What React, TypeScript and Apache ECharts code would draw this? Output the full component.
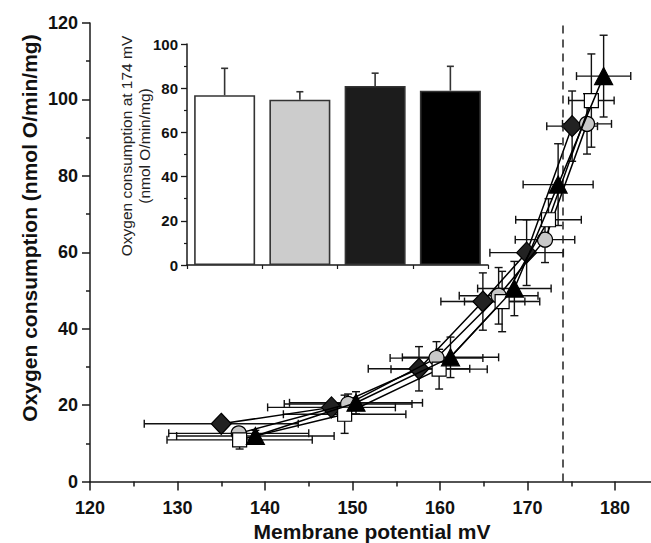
import React, { useEffect, useRef } from 'react';
import * as echarts from 'echarts';

// Main plot: four series (diamond, circle, square, triangle)
const diamondX = [135.0, 147.6, 157.6, 164.9, 169.9, 175.1];
const diamondY = [15.1, 19.4, 29.5, 47.1, 59.9, 93.0];
const diamondXErr = [8.8, 7.3, 5.8, 4.8, 4.2, 2.9];
const diamondYErr = [1.5, 1.5, 5.8, 7.5, 8.6, 9.2];

const circleX = [137.0, 149.5, 159.6, 166.7, 172.0, 176.8];
const circleY = [12.6, 20.3, 32.3, 48.6, 63.3, 93.6];
const circleXErr = [8.0, 7.3, 5.3, 4.5, 3.4, 2.8];
const circleYErr = [1.5, 2.6, 4.3, 7.4, 6.0, 7.9];

const squareX = [137.1, 149.1, 159.9, 167.1, 172.4, 177.3];
const squareY = [10.9, 17.6, 29.4, 47.1, 68.5, 99.7];
const squareXErr = [8.3, 7.0, 5.5, 4.3, 3.75, 2.6];
const squareYErr = [2.4, 5.0, 5.2, 7.9, 5.5, 12.2];

const triangleX = [138.9, 150.4, 161.2, 168.5, 173.5, 178.7];
const triangleY = [11.9, 20.6, 32.5, 50.5, 77.7, 106.1];
const triangleXErr = [9.0, 7.6, 5.5, 4.2, 4.0, 3.1];
const triangleYErr = [1.5, 2.9, 5.3, 7.1, 10.7, 10.7];

const dashedLineX = 174;
const lastXLabel = 180;

// Inset bar chart
const barCategories = ['1', '2', '3', '4'];
const barValues = [76.8, 74.8, 81.0, 78.9];
const barErrors = [12.2, 3.6, 5.8, 11.0];
const barColors = ['#ffffff', '#cccccc', '#1c1c1c', '#000000'];

// Titles
const xTitle = 'Membrane potential mV';
const yTitle = 'Oxygen consumption (nmol O/min/mg)';
const insetTitle = 'Oxygen consumption at 174 mV\n(nmol O/min/mg)';

const FONT = '"Liberation Sans", Arial, Helvetica, sans-serif';

const zip = (xs: number[], ys: number[]) => xs.map((x, i) => [x, ys[i]]);
const zip4 = (xs: number[], ys: number[], xe: number[], ye: number[]) =>
  xs.map((x, i) => [x, ys[i], xe[i], ye[i]]);

const errStyle = { stroke: '#111', lineWidth: 1.4 };

const xyErrRender = (_params: any, api: any) => {
  const x = api.value(0);
  const y = api.value(1);
  const xe = api.value(2);
  const ye = api.value(3);
  const l = api.coord([x - xe, y]);
  const r = api.coord([x + xe, y]);
  const t = api.coord([x, y + ye]);
  const b = api.coord([x, y - ye]);
  const c = 4;
  return {
    type: 'group',
    children: [
      { type: 'line', shape: { x1: l[0], y1: l[1], x2: r[0], y2: r[1] }, style: errStyle },
      { type: 'line', shape: { x1: l[0], y1: l[1] - c, x2: l[0], y2: l[1] + c }, style: errStyle },
      { type: 'line', shape: { x1: r[0], y1: r[1] - c, x2: r[0], y2: r[1] + c }, style: errStyle },
      { type: 'line', shape: { x1: t[0], y1: t[1], x2: b[0], y2: b[1] }, style: errStyle },
      { type: 'line', shape: { x1: t[0] - c, y1: t[1], x2: t[0] + c, y2: t[1] }, style: errStyle },
      { type: 'line', shape: { x1: b[0] - c, y1: b[1], x2: b[0] + c, y2: b[1] }, style: errStyle },
    ],
  };
};

const barErrRender = (_params: any, api: any) => {
  const i = api.value(0);
  const v = api.value(1);
  const e = api.value(2);
  const p0 = api.coord([i, v]);
  const p1 = api.coord([i, v + e]);
  const c = 3.5;
  const s = { stroke: '#333', lineWidth: 1.6 };
  return {
    type: 'group',
    children: [
      { type: 'line', shape: { x1: p0[0], y1: p0[1], x2: p1[0], y2: p1[1] }, style: s },
      { type: 'line', shape: { x1: p1[0] - c, y1: p1[1], x2: p1[0] + c, y2: p1[1] }, style: s },
    ],
  };
};

const seriesDefs = [
  { name: 'diamond', xs: diamondX, ys: diamondY, xe: diamondXErr, ye: diamondYErr, symbol: 'diamond', size: [20, 21], color: '#222222' },
  { name: 'circle', xs: circleX, ys: circleY, xe: circleXErr, ye: circleYErr, symbol: 'circle', size: 15, color: '#c8c8c8' },
  { name: 'square', xs: squareX, ys: squareY, xe: squareXErr, ye: squareYErr, symbol: 'rect', size: 14, color: '#ffffff' },
  { name: 'triangle', xs: triangleX, ys: triangleY, xe: triangleXErr, ye: triangleYErr, symbol: 'triangle', size: [18, 17], color: '#000000' },
];

export default function App() {
  const ref = useRef<HTMLDivElement>(null);

  useEffect(() => {
    if (!ref.current) return;
    const chart = echarts.init(ref.current, undefined, { renderer: 'svg' });

    const axisLine = { show: true, lineStyle: { color: '#1a1a1a', width: 1.5 } };

    const series: any[] = [];
    seriesDefs.forEach((d) => {
      series.push({
        type: 'custom',
        name: d.name + '-err',
        xAxisIndex: 0,
        yAxisIndex: 0,
        renderItem: xyErrRender,
        data: zip4(d.xs, d.ys, d.xe, d.ye),
        encode: { x: 0, y: 1 },
        clip: false,
        z: 2,
        silent: true,
      });
    });
    seriesDefs.forEach((d, idx) => {
      const s: any = {
        type: 'line',
        name: d.name,
        xAxisIndex: 0,
        yAxisIndex: 0,
        data: zip(d.xs, d.ys),
        symbol: d.symbol,
        symbolSize: d.size,
        lineStyle: { color: '#000', width: 1.5 },
        itemStyle: { color: d.color, borderColor: '#000', borderWidth: 1.2 },
        z: 3 + idx,
        silent: true,
      };
      if (idx === 0) {
        s.markLine = {
          silent: true,
          symbol: ['none', 'none'],
          label: { show: false },
          lineStyle: { color: '#222', width: 1.5, type: [8, 6] },
          data: [{ xAxis: dashedLineX }],
        };
      }
      series.push(s);
    });

    series.push({
      type: 'bar',
      xAxisIndex: 1,
      yAxisIndex: 1,
      data: barValues.map((v, i) => ({ value: v, itemStyle: { color: barColors[i] } })),
      barWidth: 61,
      itemStyle: { borderColor: '#333', borderWidth: 1.6 },
      z: 5,
      silent: true,
    });
    series.push({
      type: 'custom',
      xAxisIndex: 1,
      yAxisIndex: 1,
      renderItem: barErrRender,
      data: barValues.map((v, i) => [i, v, barErrors[i]]),
      encode: { x: 0, y: 1 },
      clip: false,
      z: 4,
      silent: true,
    });

    chart.setOption({
      animation: false,
      backgroundColor: '#ffffff',
      textStyle: { fontFamily: FONT },
      grid: [
        { left: 90, top: 23, width: 612.5, height: 458.5 },
        { left: 187, top: 44, width: 301, height: 221 },
      ],
      graphic: [
        {
          type: 'text',
          x: 372,
          y: 531.5,
          silent: true,
          style: { text: xTitle, fontFamily: FONT, fontWeight: 'bold', fontSize: 21, fill: '#111', align: 'center', verticalAlign: 'middle' },
        },
        {
          type: 'text',
          x: 29,
          y: 228,
          rotation: Math.PI / 2,
          silent: true,
          style: { text: yTitle, fontFamily: FONT, fontWeight: 'bold', fontSize: 21, fill: '#111', align: 'center', verticalAlign: 'middle' },
        },
        {
          type: 'text',
          x: 135,
          y: 146,
          rotation: Math.PI / 2,
          silent: true,
          style: { text: insetTitle, fontFamily: FONT, fontSize: 15.5, lineHeight: 18, fill: '#222', align: 'center', verticalAlign: 'middle' },
        },
      ],
      xAxis: [
        {
          type: 'value',
          gridIndex: 0,
          min: 120,
          max: 190,
          interval: 10,
          axisLine,
          axisTick: { show: true, length: 9, lineStyle: { color: '#1a1a1a', width: 1.5 } },
          minorTick: { show: true, splitNumber: 2, length: 5, lineStyle: { color: '#1a1a1a', width: 1.5 } },
          splitLine: { show: false },
          axisLabel: {
            fontFamily: FONT,
            fontWeight: 'bold',
            fontSize: 18,
            color: '#111',
            margin: 17,
            formatter: (v: number) => (v <= lastXLabel ? String(v) : ''),
          },
        },
        {
          type: 'category',
          gridIndex: 1,
          data: barCategories,
          axisLine,
          axisTick: { show: true, length: 4, lineStyle: { color: '#1a1a1a', width: 1.2 } },
          axisLabel: { show: false },
          splitLine: { show: false },
        },
      ],
      yAxis: [
        {
          type: 'value',
          gridIndex: 0,
          min: 0,
          max: 120,
          interval: 20,
          axisLine,
          axisTick: { show: true, length: 8, lineStyle: { color: '#1a1a1a', width: 1.5 } },
          minorTick: { show: true, splitNumber: 2, length: 4, lineStyle: { color: '#1a1a1a', width: 1.5 } },
          splitLine: { show: false },
          axisLabel: { fontFamily: FONT, fontWeight: 'bold', fontSize: 18, color: '#111', margin: 12 },
        },
        {
          type: 'value',
          gridIndex: 1,
          min: 0,
          max: 100,
          interval: 20,
          axisLine,
          axisTick: { show: true, length: 6, lineStyle: { color: '#1a1a1a', width: 1.3 } },
          minorTick: { show: true, splitNumber: 2, length: 3, lineStyle: { color: '#1a1a1a', width: 1.2 } },
          splitLine: { show: false },
          axisLabel: { fontFamily: FONT, fontWeight: 'bold', fontSize: 15, color: '#111', margin: 9 },
        },
      ],
      series,
    });

    return () => chart.dispose();
  }, []);

  return (
    <div style={{ position: 'absolute', left: 0, top: 0, width: 651, height: 543, overflow: 'hidden', background: '#fff' }}>
      <div ref={ref} style={{ width: 720, height: 543 }} />
    </div>
  );
}
